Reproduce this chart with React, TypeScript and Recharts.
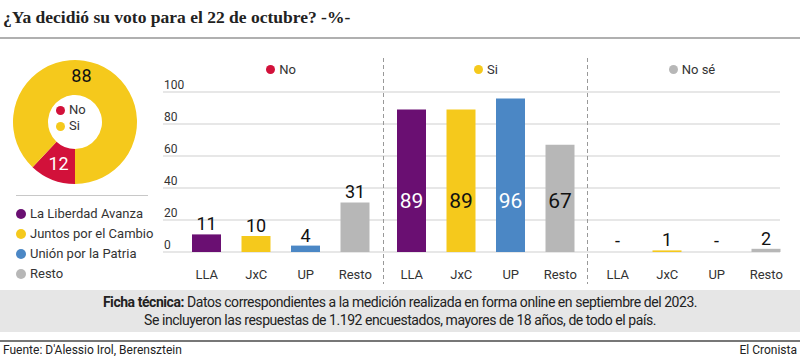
import { PieChart, Pie, Cell, BarChart, Bar, XAxis, YAxis, CartesianGrid, LabelList } from "recharts";

const answers = ["No", "Si"];
const donutValues = [12, 88];
const parties = ["LLA", "JxC", "UP", "Resto"];
const partyNames = ["La Liberdad Avanza", "Juntos por el Cambio", "Unión por la Patria", "Resto"];
const noValues = [11, 10, 4, 31];
const siValues = [89, 89, 96, 67];
const noSeValues = [0, 1, 0, 2];
const yTicks = [0, 20, 40, 60, 80, 100];

const answerColors = ["#d2113a", "#f5c91c"];
const partyColors = ["#6a0f72", "#f5c91c", "#4b87c5", "#b7b7b7"];
const noSeColor = "#b7b7b7";
const sans = "Roboto, 'Noto Sans', sans-serif";

const donutData = answers.map((a, i) => ({ name: a, value: donutValues[i] }));
const toRows = (vals: number[]) => parties.map((p, i) => ({ party: p, value: vals[i] }));

const RAD = Math.PI / 180;

function renderDonutLabel(props: any) {
  const { cx, cy, midAngle, innerRadius, outerRadius, index, value } = props;
  // the big slice label sits near the top of the ring
  const angle = index === 1 ? 82 : midAngle;
  const r = (innerRadius + outerRadius) / 2 + (index === 1 ? 2 : 0);
  const x = cx + r * Math.cos(-angle * RAD);
  const y = cy + r * Math.sin(-angle * RAD);
  return (
    <text x={x} y={y} textAnchor="middle" dominantBaseline="central" fill={index === 0 ? "#fff" : "#111"} fontSize={18} fontFamily={sans}>
      {value}
    </text>
  );
}

function YTick(props: any) {
  const { x, y, payload } = props;
  return (
    <text x={x + 1} y={y - 3} textAnchor="start" fontSize={12} fill="#333" fontFamily={sans}>
      {payload.value}
    </text>
  );
}

function Dot({ color, size = 9 }: { color: string; size?: number }) {
  return <span style={{ display: "inline-block", width: size, height: size, borderRadius: "50%", background: color, marginRight: 4 }} />;
}

function Header({ label, color, left, width }: { label: string; color: string; left: number; width: number }) {
  return (
    <div style={{ position: "absolute", left, top: 62, width, display: "flex", justifyContent: "center", alignItems: "center", fontSize: 13, color: "#333", fontFamily: sans }}>
      <Dot color={color} />
      {label}
    </div>
  );
}

// value above the bar, "-" when there is no answer
function TopLabel(props: any) {
  const { x, y, width, value } = props;
  return (
    <text x={x + width / 2} y={y - 4} textAnchor="middle" fontSize={18} fontFamily={sans} fill="#111">
      {value === 0 ? "-" : value}
    </text>
  );
}

function SiLabel(props: any) {
  const { x, y, width, height, value, index } = props;
  const light = index === 0 || index === 2;
  return (
    <text x={x + width / 2} y={y + height - 51} textAnchor="middle" dominantBaseline="central" fontSize={21} fontFamily={sans} fill={light ? "#fff" : "#111"}>
      {value}
    </text>
  );
}

const xTick = { fontSize: 13, fill: "#333", fontFamily: sans };

export default function App() {
  return (
    <div style={{ position: "absolute", left: 0, top: 0, width: 800, height: 356, background: "#fff", overflow: "hidden", fontFamily: sans }}>
      <div style={{ position: "absolute", left: 3, top: 7, fontFamily: "'Liberation Serif', serif", fontSize: 17.5, fontWeight: 700, color: "#222" }}>
        ¿Ya decidió su voto para el 22 de octubre? -%-
      </div>
      <div style={{ position: "absolute", left: 0, top: 37, width: 800, height: 2, background: "#b0b0b0" }} />

      <div style={{ position: "absolute", left: 0, top: 47 }}>
        <PieChart width={140} height={140}>
          <Pie data={donutData} dataKey="value" nameKey="name" cx={70} cy={70} innerRadius={27} outerRadius={62} startAngle={270} endAngle={-90} stroke="none" label={renderDonutLabel} labelLine={false} isAnimationActive={false}>
            {donutData.map((d, i) => (
              <Cell key={d.name} fill={answerColors[i]} />
            ))}
          </Pie>
        </PieChart>
      </div>
      <div style={{ position: "absolute", left: 56, top: 102, fontSize: 13, color: "#333", lineHeight: "16px" }}>
        {answers.map((a, i) => (
          <div key={a} style={{ display: "flex", alignItems: "center" }}>
            <Dot color={answerColors[i]} />
            {a}
          </div>
        ))}
      </div>

      <div style={{ position: "absolute", left: 16, top: 195, width: 132, height: 1, background: "#c8c8c8" }} />
      <div style={{ position: "absolute", left: 16, top: 204, fontSize: 13, color: "#333", lineHeight: "20px" }}>
        {partyNames.map((n, i) => (
          <div key={n} style={{ display: "flex", alignItems: "center" }}>
            <Dot color={partyColors[i]} size={10} />
            {n}
          </div>
        ))}
      </div>

      <Header label="No" color={answerColors[0]} left={182} width={198} />
      <Header label="Si" color={answerColors[1]} left={387} width={198} />
      <Header label="No sé" color={noSeColor} left={593} width={198} />

      <div style={{ position: "absolute", left: 150, top: 62 }}>
        <BarChart width={233} height={220} data={toRows(noValues)} margin={{ top: 30, right: 3, bottom: 0, left: 12 }}>
          <CartesianGrid vertical={false} stroke="#cfcfcf" />
          <YAxis width={1} domain={[0, 100]} ticks={yTicks} axisLine={false} tickLine={false} tickSize={0} tickMargin={0} tick={<YTick />} />
          <XAxis dataKey="party" axisLine={false} tickLine={false} tickSize={0} tickMargin={18} height={30} padding={{ left: 19, right: 0 }} tick={xTick} interval={0} />
          <Bar dataKey="value" barSize={29} isAnimationActive={false}>
            {parties.map((p, i) => (
              <Cell key={p} fill={partyColors[i]} />
            ))}
            <LabelList dataKey="value" content={<TopLabel />} />
          </Bar>
        </BarChart>
      </div>

      <div style={{ position: "absolute", left: 380, top: 62 }}>
        <BarChart width={205} height={220} data={toRows(siValues)} margin={{ top: 30, right: 0, bottom: 0, left: 0 }}>
          <CartesianGrid vertical={false} stroke="#cfcfcf" />
          <YAxis hide domain={[0, 100]} ticks={yTicks} />
          <XAxis dataKey="party" axisLine={false} tickLine={false} tickSize={0} tickMargin={18} height={30} padding={{ left: 7, right: 0 }} tick={xTick} interval={0} />
          <Bar dataKey="value" barSize={29} isAnimationActive={false}>
            {parties.map((p, i) => (
              <Cell key={p} fill={partyColors[i]} />
            ))}
            <LabelList dataKey="value" content={<SiLabel />} />
          </Bar>
        </BarChart>
      </div>

      <div style={{ position: "absolute", left: 585, top: 62 }}>
        <BarChart width={215} height={220} data={toRows(noSeValues)} margin={{ top: 30, right: 20, bottom: 0, left: 0 }}>
          <CartesianGrid vertical={false} stroke="#cfcfcf" />
          <YAxis hide domain={[0, 100]} ticks={yTicks} />
          <XAxis dataKey="party" axisLine={false} tickLine={false} tickSize={0} tickMargin={18} height={30} padding={{ left: 8, right: -11 }} tick={xTick} interval={0} />
          {/* minPointSize keeps the empty answers in the label list; their cells are left unpainted */}
          <Bar dataKey="value" barSize={29} minPointSize={1} isAnimationActive={false}>
            {parties.map((p, i) => (
              <Cell key={p} fill={noSeValues[i] === 0 ? "none" : partyColors[i]} />
            ))}
            <LabelList dataKey="value" content={<TopLabel />} />
          </Bar>
        </BarChart>
      </div>

      <svg style={{ position: "absolute", left: 0, top: 0 }} width={800} height={356}>
        <line x1={383.5} x2={383.5} y1={58} y2={284} stroke="#999" strokeDasharray="4 3" />
        <line x1={587.5} x2={587.5} y1={58} y2={284} stroke="#999" strokeDasharray="4 3" />
      </svg>

      <div style={{ position: "absolute", left: 0, top: 290, width: 800, height: 42, background: "#e6e6e6", textAlign: "center", fontSize: 14, letterSpacing: -0.45, lineHeight: "18px", color: "#222", paddingTop: 3, boxSizing: "border-box" }}>
        <div>
          <b>Ficha técnica:</b> Datos correspondientes a la medición realizada en forma online en septiembre del 2023.
        </div>
        <div>Se incluyeron las respuestas de 1.192 encuestados, mayores de 18 años, de todo el país.</div>
      </div>
      <div style={{ position: "absolute", left: 0, top: 340, width: 800, height: 2, background: "#777" }} />
      <div style={{ position: "absolute", left: 3, top: 343, fontSize: 12, color: "#222" }}>Fuente: D'Alessio Irol, Berensztein</div>
      <div style={{ position: "absolute", right: 3, top: 343, fontSize: 12, color: "#222" }}>El Cronista</div>
    </div>
  );
}
